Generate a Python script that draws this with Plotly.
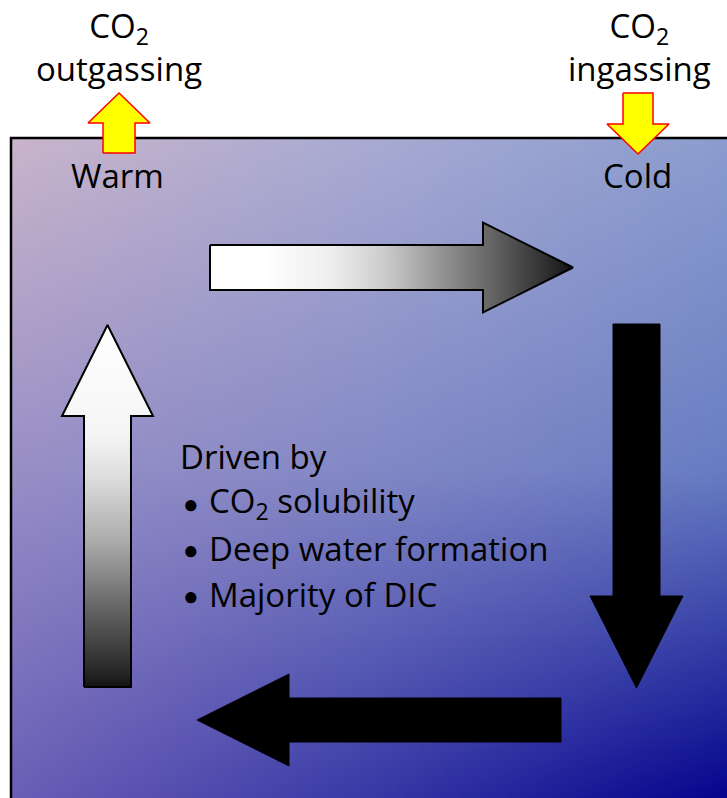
import numpy as np
import plotly.graph_objects as go

W, H = 727, 798

# ---- text content ----
top_left_labels = ["CO<sub>2</sub>", "outgassing"]
top_right_labels = ["CO<sub>2</sub>", "ingassing"]
surface_labels = ["Warm", "Cold"]
driver_title = "Driven by"
driver_bullets = ["CO<sub>2</sub> solubility", "Deep water formation", "Majority of DIC"]

# ---- background gradient control colours (3x3: rows top->bottom, cols left->right) ----
grad_colors = [
    [(200, 180, 202), (168, 170, 210), (138, 156, 206)],
    [(152, 142, 198), (130, 136, 197), (104, 124, 194)],
    [(106, 94, 182), (56, 56, 166), (4, 4, 140)],
]

FONT = "Open Sans"

# ---- geometry (pixel layout) ----
BOX_L, BOX_T = 11, 138

def bilinear(grid, nx, ny):
    g = np.array(grid, dtype=float)
    ys = np.linspace(0, 2, ny)
    xs = np.linspace(0, 2, nx)
    out = np.zeros((ny, nx, 3))
    for j, yv in enumerate(ys):
        r0 = min(int(yv), 1)
        fy = yv - r0
        for i, xv in enumerate(xs):
            c0 = min(int(xv), 1)
            fx = xv - c0
            a = g[r0, c0] * (1 - fx) + g[r0, c0 + 1] * fx
            b = g[r0 + 1, c0] * (1 - fx) + g[r0 + 1, c0 + 1] * fx
            out[j, i] = a * (1 - fy) + b * fy
    return np.round(out).astype(int)

nx, ny = 180, 166
img = bilinear(grad_colors, nx, ny)
dx = (W + 2 - BOX_L) / nx
dy = (H + 2 - BOX_T) / ny

fig = go.Figure()
fig.add_trace(go.Image(z=img.tolist(), x0=BOX_L + dx / 2, dx=dx, y0=BOX_T + dy / 2, dy=dy,
                       hoverinfo="skip", zsmooth="fast"))

# box border (left and top)
fig.add_trace(go.Scatter(x=[BOX_L, BOX_L, W + 5], y=[H + 5, BOX_T, BOX_T], mode="lines",
                         line=dict(color="black", width=2.5), hoverinfo="skip"))


def h_arrow(x_tail, x_base, x_tip, yc, shaft_h, head_h):
    s, hh = shaft_h / 2, head_h / 2
    xs = [x_tail, x_base, x_base, x_tip, x_base, x_base, x_tail, x_tail]
    ys = [yc - s, yc - s, yc - hh, yc, yc + hh, yc + s, yc + s, yc - s]
    return xs, ys


def v_arrow(y_tail, y_base, y_tip, xc, shaft_w, head_w):
    s, hw = shaft_w / 2, head_w / 2
    ys = [y_tail, y_base, y_base, y_tip, y_base, y_base, y_tail, y_tail]
    xs = [xc - s, xc - s, xc - hw, xc, xc + hw, xc + s, xc + s, xc - s]
    return xs, ys


# top arrow (white -> black, pointing right)
ax, ay = h_arrow(210, 483, 573, 267.5, 45, 90)
fig.add_trace(go.Scatter(
    x=ax, y=ay, mode="lines", fill="toself", line=dict(color="black", width=2),
    fillgradient=dict(type="horizontal", start=210, stop=573,
                      colorscale=[[0, "#ffffff"], [0.15, "#ffffff"], [0.33, "#eeeeee"], [0.48, "#cccccc"],
                                  [0.62, "#999999"], [0.72, "#777777"], [0.82, "#555555"],
                                  [0.96, "#222222"], [1, "#111111"]]),
    hoverinfo="skip"))

# right arrow (black, pointing down)
ax, ay = v_arrow(324, 596, 688, 636.5, 47, 93)
fig.add_trace(go.Scatter(x=ax, y=ay, mode="lines", fill="toself", fillcolor="black",
                         line=dict(color="black", width=1), hoverinfo="skip"))

# bottom arrow (black, pointing left)
ax, ay = h_arrow(561, 289, 197, 720, 44, 92)
fig.add_trace(go.Scatter(x=ax, y=ay, mode="lines", fill="toself", fillcolor="black",
                         line=dict(color="black", width=1), hoverinfo="skip"))

# left arrow (black -> white, pointing up)
ax, ay = v_arrow(687, 416, 325, 107.5, 47, 91)
fig.add_trace(go.Scatter(
    x=ax, y=ay, mode="lines", fill="toself", line=dict(color="black", width=2),
    fillgradient=dict(type="vertical", start=325, stop=687,
                      colorscale=[[0, "#ffffff"], [0.3, "#f5f5f5"], [0.42, "#dddddd"], [0.6, "#aaaaaa"],
                                  [0.78, "#666666"], [0.97, "#222222"], [1, "#111111"]]),
    hoverinfo="skip"))

# yellow CO2 arrows
ax, ay = v_arrow(153, 123, 93, 119, 32, 62)
fig.add_trace(go.Scatter(x=ax, y=ay, mode="lines", fill="toself", fillcolor="#ffff00",
                         line=dict(color="#ff0000", width=1.5), hoverinfo="skip"))
ax, ay = v_arrow(93, 124, 154, 638, 30, 62)
fig.add_trace(go.Scatter(x=ax, y=ay, mode="lines", fill="toself", fillcolor="#ffff00",
                         line=dict(color="#ff0000", width=1.5), hoverinfo="skip"))

ann = []

def txt(x, y, t, xanchor="center", size=33):
    ann.append(dict(x=x, y=y, xref="x", yref="y", text=t, showarrow=False,
                    xanchor=xanchor, yanchor="middle",
                    font=dict(family=FONT, size=size, color="black")))

txt(119, 47, "<br>".join(top_left_labels))
txt(639, 47, "<br>".join(top_right_labels))
txt(117, 175, surface_labels[0])
txt(637, 175, surface_labels[1])

txt(178, 456, driver_title, xanchor="left", size=33)
for i, b in enumerate(driver_bullets):
    y = 502 + i * 46
    txt(191, y + 1, "●", size=26)
    txt(207, y, b, xanchor="left", size=33)

fig.update_layout(
    width=W, height=H, margin=dict(l=0, r=0, t=0, b=0),
    paper_bgcolor="white", plot_bgcolor="white", showlegend=False,
    xaxis=dict(range=[0, W], visible=False, fixedrange=True),
    yaxis=dict(range=[H, 0], visible=False, fixedrange=True),
    annotations=ann,
)

fig.write_html("out.html", config={"displayModeBar": False},
               post_script="document.body.style.margin='0';document.body.style.overflow='hidden';")
